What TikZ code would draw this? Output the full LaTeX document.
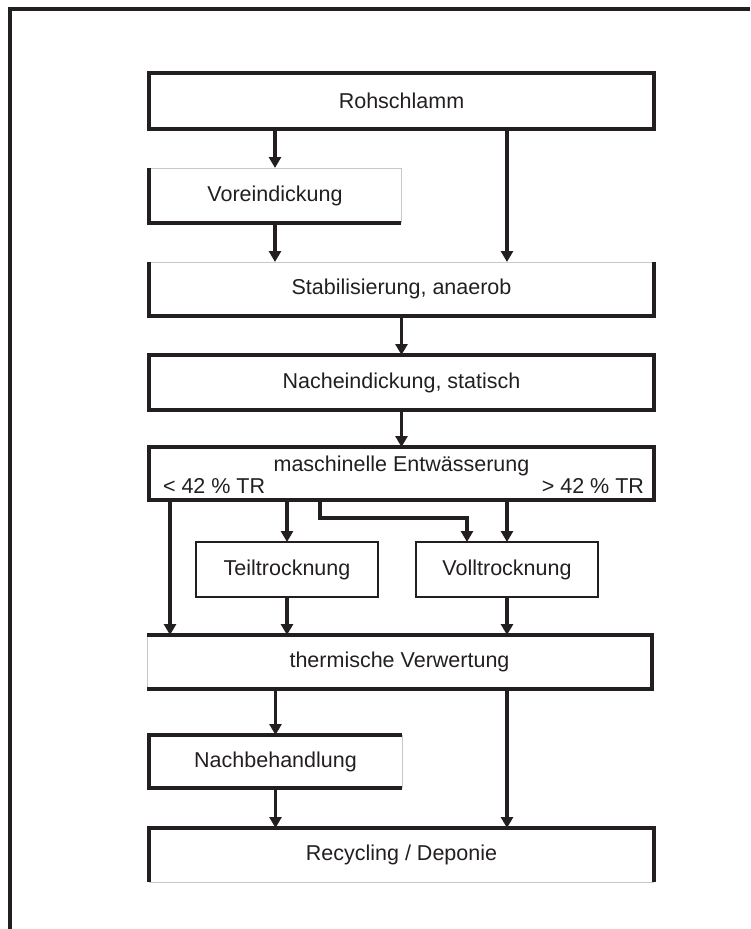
\documentclass[tikz,border=0pt]{standalone}
\usepackage{fontspec}
\setmainfont{Liberation Sans}
\usetikzlibrary{arrows.meta}
\definecolor{ink}{RGB}{35,31,32}
\definecolor{faintline}{RGB}{200,200,200}

\begin{document}
\begin{tikzpicture}[x=1pt,y=-1pt,
  font=\fontsize{21.5}{25}\selectfont,
  stage/.style={inner sep=0pt, outer sep=0pt, text=ink},
  heavy/.style={draw=ink, line width=3.2pt, line join=miter},
  medium/.style={draw=ink, line width=2.7pt, line join=miter},
  faint/.style={draw=faintline, line width=1pt},
  flow/.style={draw=ink, line width=3.2pt, -{Triangle[length=11pt,width=12pt]}}]

\useasboundingbox (0,0) rectangle (750,929);

% open frame: top and left edge only
\draw[heavy] (10,929) -- (10,9) -- (750,9);

% process stages
\node[stage, minimum width=505pt, minimum height=56pt] (roh)   at (401.5,101)   {Rohschlamm};
\node[stage, minimum width=252pt, minimum height=55pt] (vor)   at (275,195.5)   {Voreindickung};
\node[stage, minimum width=505pt, minimum height=54pt] (stab)  at (401.5,289)   {Stabilisierung, anaerob};
\node[stage, minimum width=505pt, minimum height=55pt] (nach)  at (401.5,382.5) {Nacheindickung, statisch};
\node[stage, minimum width=505pt, minimum height=53pt] (masch) at (401.5,473.5) {};
\node[stage, minimum width=182pt, minimum height=55pt] (teil)  at (287,569.5)   {Teiltrocknung};
\node[stage, minimum width=182pt, minimum height=55pt] (vol)   at (507,569.5)   {Volltrocknung};
\node[stage, minimum width=505pt, minimum height=54pt] (therm) at (399.5,662)   {thermische Verwertung};
\node[stage, minimum width=253pt, minimum height=53pt] (nachb) at (275.5,761.5) {Nachbehandlung};
\node[stage, minimum width=505pt, minimum height=54pt] (rec)   at (401.5,855)   {Recycling / Deponie};

% texts inside the dewatering stage
\node[stage, anchor=base]      (mtitle) at (401.5,471) {maschinelle Entwässerung};
\node[stage, anchor=base west] (lowtr)  at (163,493)   {< 42 \% TR};
\node[stage, anchor=base east] (hightr) at (644,493)   {> 42 \% TR};

% stage outlines
\draw[heavy] (roh.north west) rectangle (roh.south east);
\draw[faint] (vor.south east) -- (vor.north east) -- (vor.north west);
\draw[heavy] (vor.north west) -- (vor.south west) -- (vor.south east);
\draw[faint] (stab.north west) -- (stab.north east);
\draw[heavy] (stab.north west) -- (stab.south west) -- (stab.south east) -- (stab.north east);
\draw[heavy] (nach.north west) rectangle (nach.south east);
\draw[heavy] (masch.north west) rectangle (masch.south east);
\draw[medium] (teil.north west) rectangle (teil.south east);
\draw[medium] (vol.north west) rectangle (vol.south east);
\draw[faint] (therm.north west) -- (therm.south west);
\draw[heavy] (therm.south west) -- (therm.south east) -- (therm.north east) -- (therm.north west);
\draw[faint] (nachb.north east) -- (nachb.south east);
\draw[heavy] (nachb.south east) -- (nachb.south west) -- (nachb.north west) -- (nachb.north east);
\draw[faint] (rec.south west) -- (rec.south east);
\draw[heavy] (rec.south west) -- (rec.north west) -- (rec.north east) -- (rec.south east);

% columns of the connectors below the dewatering stage
\coordinate (colA) at (170,0);
\coordinate (colC) at (320,0);
\coordinate (bend) at (467,518);

% connectors
\draw[flow] (roh.south -| vor) -- (vor.north);
\draw[flow] (roh.south -| vol) -- (stab.north -| vol);
\draw[flow] (vor.south) -- (vor.south |- stab.north);
\draw[flow] (stab.south) -- (nach.north);
\draw[flow] (nach.south) -- (masch.north);
\draw[flow] (masch.south -| colA) -- (therm.north -| colA);
\draw[flow] (masch.south -| teil) -- (teil.north);
\draw[flow] (masch.south -| colC) |- (bend) -- (bend |- vol.north);
\draw[flow] (masch.south -| vol) -- (vol.north);
\draw[flow] (teil.south) -- (therm.north -| teil);
\draw[flow] (vol.south) -- (therm.north -| vol);
\draw[flow] (therm.south -| nachb) -- (nachb.north);
\draw[flow] (therm.south -| vol) -- (rec.north -| vol);
\draw[flow] (nachb.south) -- (rec.north -| nachb);
\end{tikzpicture}
\end{document}
